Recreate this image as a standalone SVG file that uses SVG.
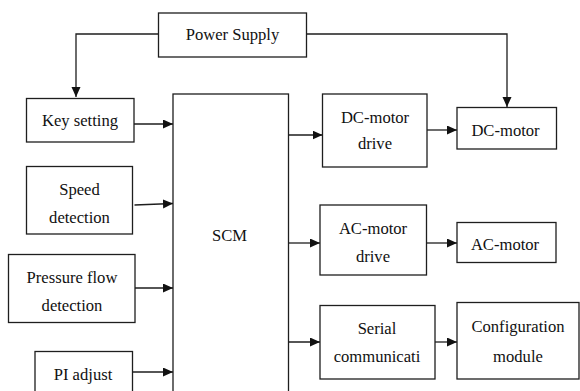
<svg xmlns="http://www.w3.org/2000/svg" width="580" height="391" viewBox="0 0 580 391">
  <style>
    .box { fill: #ffffff; stroke: #1e1e1e; stroke-width: 1.3; }
    .lbl { font-family: "Liberation Serif", "Times New Roman", serif; font-size: 16.6px; fill: #111111; text-anchor: middle; }
    .wire { fill: none; stroke: #1e1e1e; stroke-width: 1.3; marker-end: url(#arrow); }
  </style>
  <defs>
    <marker id="arrow" markerUnits="userSpaceOnUse" markerWidth="11" markerHeight="10" refX="10" refY="4.5" orient="auto">
      <path d="M0,0 L10,4.5 L0,9 Z" fill="#111111"/>
    </marker>
  </defs>
  <rect width="580" height="391" fill="#ffffff"/>

  <g id="connectors">
    <path class="wire" d="M158,34 H76 V97"/>
    <path class="wire" d="M307,34 H507 V107"/>
    <path class="wire" d="M134,124 H173"/>
    <path class="wire" d="M134.5,205 L173,203.5"/>
    <path class="wire" d="M135,288 H173"/>
    <path class="wire" d="M132,372 H173"/>
    <path class="wire" d="M288.5,135 H322.5"/>
    <path class="wire" d="M427,130 H457"/>
    <path class="wire" d="M288.5,243 H320"/>
    <path class="wire" d="M427,243 H457"/>
    <path class="wire" d="M287,342 H320"/>
    <path class="wire" d="M435,342 H457"/>
  </g>

  <g id="power-supply">
    <rect class="box" x="158.5" y="13" width="148" height="44"/>
    <text class="lbl" x="232.5" y="40">Power Supply</text>
  </g>
  <g id="key-setting">
    <rect class="box" x="26.5" y="98.5" width="107.5" height="43.5"/>
    <text class="lbl" x="80" y="125.5">Key setting</text>
  </g>
  <g id="speed-detection">
    <rect class="box" x="26.5" y="166.5" width="106" height="67.5"/>
    <text class="lbl" x="79.5" y="195">Speed</text>
    <text class="lbl" x="79.5" y="223">detection</text>
  </g>
  <g id="pressure-flow-detection">
    <rect class="box" x="8.5" y="254.5" width="126.5" height="68"/>
    <text class="lbl" x="72" y="283">Pressure flow</text>
    <text class="lbl" x="72" y="310.5">detection</text>
  </g>
  <g id="pi-adjust">
    <rect class="box" x="35" y="351.5" width="97.5" height="45"/>
    <text class="lbl" x="83" y="380">PI adjust</text>
  </g>
  <g id="scm">
    <rect class="box" x="173" y="94" width="115.5" height="305"/>
    <text class="lbl" x="229.5" y="240.5">SCM</text>
  </g>
  <g id="dc-motor-drive">
    <rect class="box" x="322.5" y="94" width="104.5" height="73"/>
    <text class="lbl" x="375" y="122.5">DC-motor</text>
    <text class="lbl" x="375" y="149">drive</text>
  </g>
  <g id="dc-motor">
    <rect class="box" x="457" y="107.5" width="99.5" height="41.5"/>
    <text class="lbl" x="505.5" y="136">DC-motor</text>
  </g>
  <g id="ac-motor-drive">
    <rect class="box" x="320" y="205" width="106.5" height="70"/>
    <text class="lbl" x="373" y="234">AC-motor</text>
    <text class="lbl" x="373" y="261.5">drive</text>
  </g>
  <g id="ac-motor">
    <rect class="box" x="457" y="222.5" width="99" height="40"/>
    <text class="lbl" x="505" y="250">AC-motor</text>
  </g>
  <g id="serial-communication">
    <rect class="box" x="320" y="305.5" width="115" height="73.5"/>
    <text class="lbl" x="377" y="334">Serial</text>
    <text class="lbl" x="377" y="361.5">communicati</text>
  </g>
  <g id="configuration-module">
    <rect class="box" x="457" y="302.5" width="122" height="76.5"/>
    <text class="lbl" x="518" y="331.5">Configuration</text>
    <text class="lbl" x="518" y="361.5">module</text>
  </g>
</svg>
